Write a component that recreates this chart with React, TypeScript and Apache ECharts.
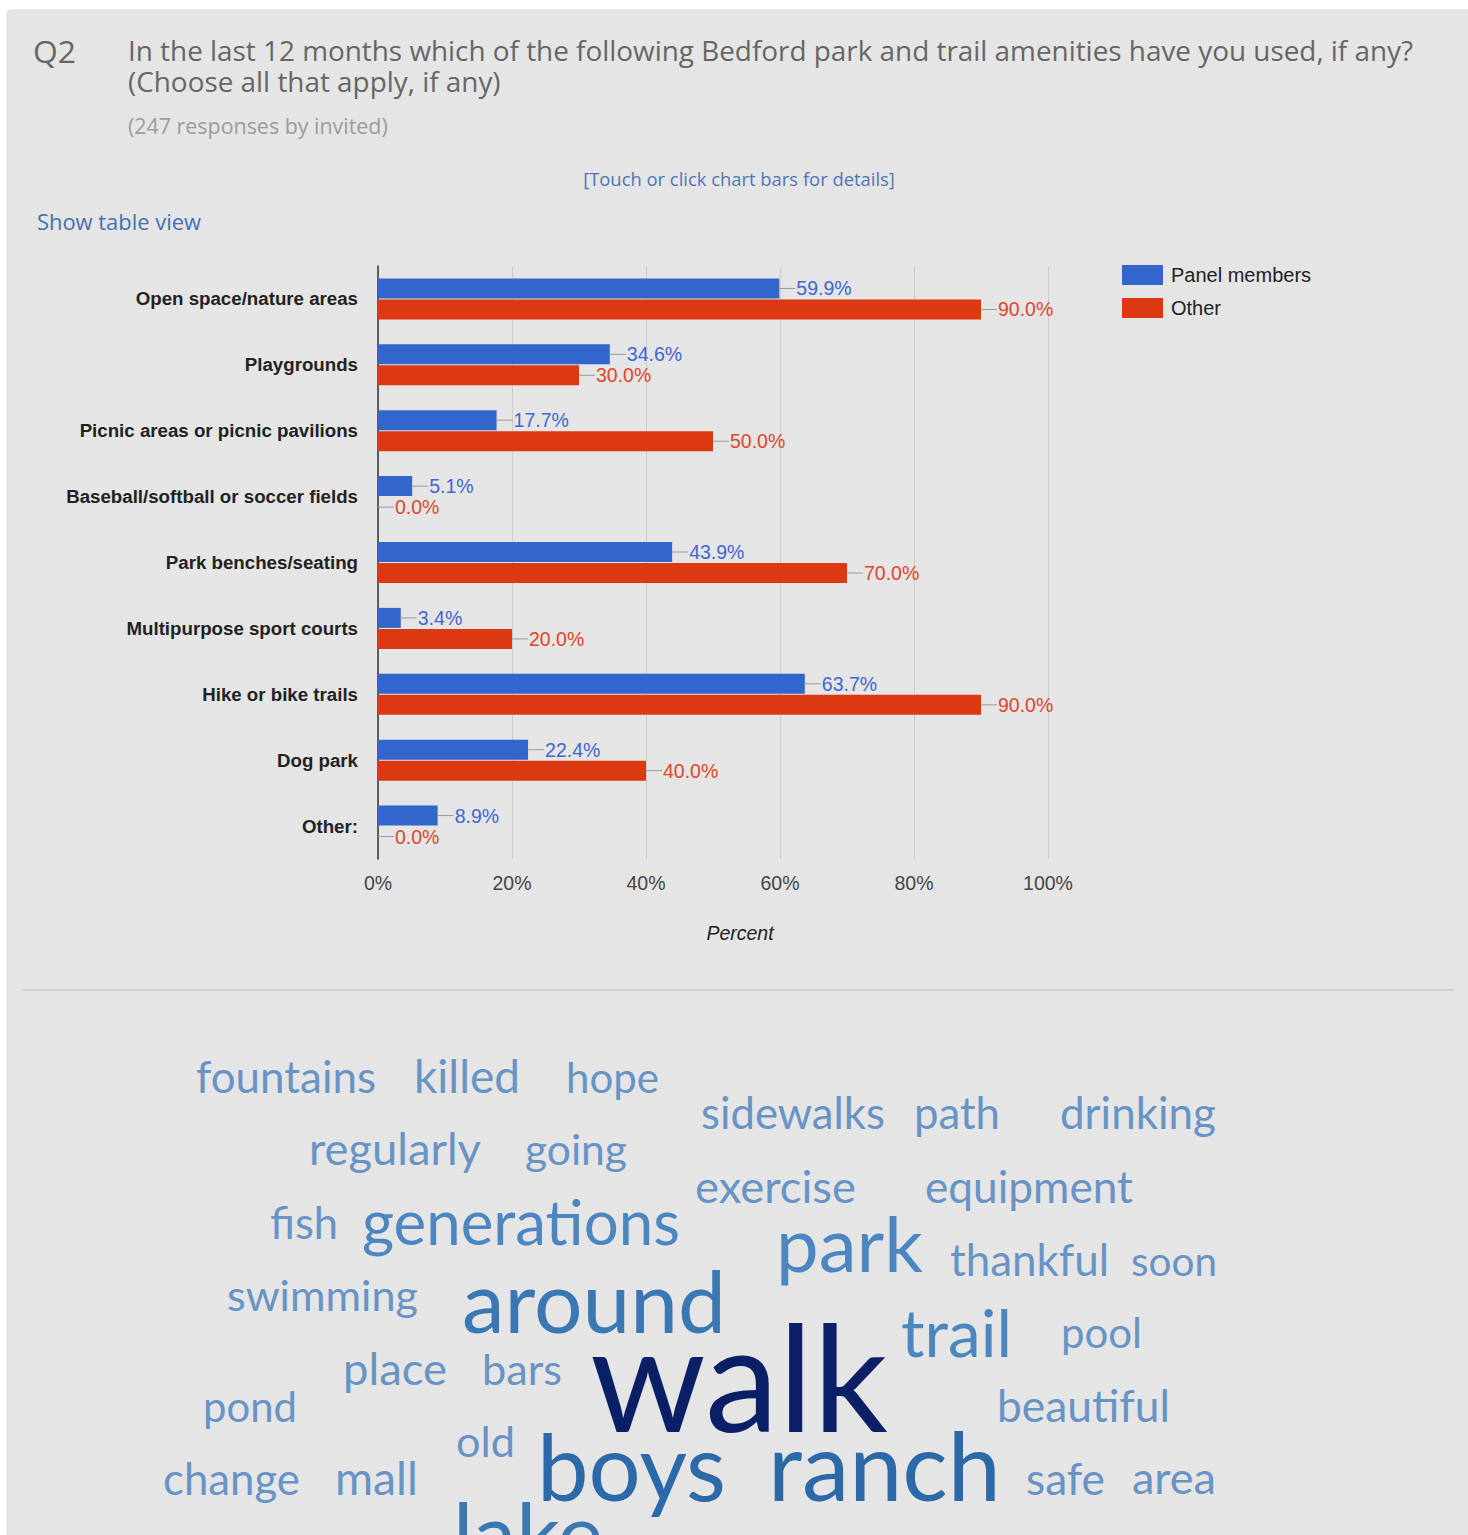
import React, { useEffect, useRef } from "react";
import * as echarts from "echarts";

// ---------- data ----------
const CATEGORIES = [
  "Open space/nature areas",
  "Playgrounds",
  "Picnic areas or picnic pavilions",
  "Baseball/softball or soccer fields",
  "Park benches/seating",
  "Multipurpose sport courts",
  "Hike or bike trails",
  "Dog park",
  "Other:",
];
const PANEL_MEMBERS = [59.9, 34.6, 17.7, 5.1, 43.9, 3.4, 63.7, 22.4, 8.9];
const OTHER = [90.0, 30.0, 50.0, 0.0, 70.0, 20.0, 90.0, 40.0, 0.0];
const SERIES_NAMES = ["Panel members", "Other"];
const X_MIN = 0;
const X_MAX = 100;
const X_STEP = 20;

const TITLE_NUM = "Q2";
const TITLE_LINE1 =
  "In the last 12 months which of the following Bedford park and trail amenities have you used, if any?";
const TITLE_LINE2 = "(Choose all that apply, if any)";
const RESPONSES = "(247 responses by invited)";
const HINT = "[Touch or click chart bars for details]";
const TABLE_LINK = "Show table view";
const X_TITLE = "Percent";

// word cloud words and their estimated weights
const WORDS = [
  "fountains", "killed", "hope", "sidewalks", "path", "drinking",
  "regularly", "going", "exercise", "equipment", "fish", "generations",
  "park", "thankful", "soon", "swimming", "around", "trail", "pool",
  "place", "bars", "walk", "pond", "beautiful", "old", "boys", "ranch",
  "change", "mall", "safe", "area", "lake", "nature", "kids", "dogs", "fields",
];
const WEIGHTS = [
  3, 3, 3, 3, 3, 3,
  3, 3, 3, 3, 3, 5,
  7, 3, 3, 3, 9, 6, 3,
  3, 3, 20, 3, 3, 3, 12, 12,
  3, 3, 3, 3, 9, 4, 4, 4, 4,
];

// ---------- layout (positions only) ----------
// [left x, baseline y, width]
const WORD_LAYOUT: number[][] = [
  [196, 1093, 180], [414, 1093, 106], [566, 1093, 93], [701, 1129, 184], [914, 1129, 86], [1060, 1129, 156],
  [309, 1165, 172], [525, 1165, 102], [695, 1203, 161], [925, 1203, 208], [270, 1239, 68], [362, 1245, 318],
  [776, 1272, 147], [950, 1276, 159], [1131, 1276, 86], [227, 1311, 191], [462, 1333, 264], [901, 1357, 111], [1061, 1348, 81],
  [343, 1385, 104], [482, 1385, 80], [590, 1432, 298], [203, 1422, 94], [997, 1422, 173], [456, 1457, 59], [537, 1501, 189], [768, 1501, 233],
  [163, 1495, 137], [335, 1495, 83], [1026, 1495, 79], [1132, 1495, 84], [453, 1565, 150], [300, 1572, 130], [825, 1572, 80], [975, 1572, 90], [1098, 1572, 118],
];

const BLUE = "#3366cc";
const RED = "#dc3912";
const CHART_FONT = "'Liberation Sans', Arial, sans-serif";
const HEAD_FONT = "'Open Sans', sans-serif";
const CLOUD_FONT = "Lato, sans-serif";

let ctx: CanvasRenderingContext2D | null = null;
function fitSize(text: string, family: string, weight: string, target: number) {
  if (!ctx) ctx = document.createElement("canvas").getContext("2d");
  if (!ctx) return 20;
  ctx.font = `${weight} 100px ${family}`;
  const w = ctx.measureText(text).width;
  return (100 * target) / w;
}

function wordColor(w: number) {
  if (w >= 15) return "#0b1f66";
  if (w >= 10) return "#2c69a8";
  if (w >= 8) return "#3a77b3";
  if (w >= 5) return "#4c86c0";
  return "#6893c5";
}

export default function App() {
  const ref = useRef<HTMLDivElement>(null);
  useEffect(() => {
    if (!ref.current) return;
    const chart = echarts.init(ref.current, undefined, { renderer: "svg" });

    const titleSize = fitSize(TITLE_LINE1, HEAD_FONT, "400", 1286);
    const respSize = fitSize(RESPONSES, HEAD_FONT, "400", 260);
    const hintSize = fitSize(HINT, HEAD_FONT, "400", 312);
    const linkSize = fitSize(TABLE_LINK, HEAD_FONT, "400", 164);
    const qSize = fitSize(TITLE_NUM, HEAD_FONT, "400", 43);

    const headText = (text: string, x: number, y: number, size: number, fill: string, align = "left") => ({
      type: "text",
      x,
      y,
      style: { text, fontSize: size, fontFamily: HEAD_FONT, fill, align, verticalAlign: "middle" },
    });

    const cloud = WORDS.map((word, i) => {
      const [x, base, w] = WORD_LAYOUT[i];
      const fs = fitSize(word, CLOUD_FONT, "400", w);
      return {
        type: "text",
        x,
        y: base - 0.39 * fs,
        style: {
          text: word,
          fontSize: fs,
          fontFamily: CLOUD_FONT,
          fill: wordColor(WEIGHTS[i]),
          align: "left",
          verticalAlign: "middle",
        },
      };
    });

    const labelFor = (color: string) => ({
      show: true,
      position: "right",
      distance: 0,
      formatter: (p: any) => `{ln|}{v|${Number(p.value).toFixed(1)}%}`,
      rich: {
        ln: { width: 16, height: 1, backgroundColor: "#9a9a9a", verticalAlign: "middle" },
        v: { color, fontSize: 19.5, fontFamily: CHART_FONT, padding: [0, 0, 0, 1] },
      },
    });

    chart.setOption({
      animation: false,
      backgroundColor: "#ffffff",
      textStyle: { fontFamily: CHART_FONT },
      graphic: [
        {
          type: "rect",
          z: -100,
          shape: { x: 7, y: 10, width: 1480, height: 1560, r: 4 },
          style: { fill: "#e5e5e5", stroke: "#dcdcdc", lineWidth: 1 },
        },
        {
          type: "line",
          shape: { x1: 22, y1: 990, x2: 1455, y2: 990 },
          style: { stroke: "#d3d3d3", lineWidth: 2 },
        },
        headText(TITLE_NUM, 33, 50, qSize, "#666666"),
        headText(TITLE_LINE1, 128, 50, titleSize, "#666666"),
        headText(TITLE_LINE2, 128, 81, titleSize, "#666666"),
        headText(RESPONSES, 128, 125, respSize, "#9c9c9c"),
        headText(HINT, 739, 178, hintSize, "#4d76b8", "center"),
        headText(TABLE_LINK, 37, 221, linkSize, "#3f72b0"),
        {
          type: "text",
          x: 740,
          y: 933,
          style: {
            text: X_TITLE,
            fontSize: 19.5,
            fontStyle: "italic",
            fontFamily: CHART_FONT,
            fill: "#222222",
            align: "center",
            verticalAlign: "middle",
          },
        },
        ...cloud,
      ],
      legend: {
        left: 1122,
        top: 265,
        padding: 0,
        orient: "vertical",
        icon: "rect",
        itemWidth: 41,
        itemHeight: 20,
        itemGap: 13,
        data: SERIES_NAMES,
        textStyle: { fontSize: 20, color: "#222222", fontFamily: CHART_FONT, padding: [0, 0, 0, 3] },
      },
      grid: { left: 378, top: 266, width: 670, height: 593 },
      xAxis: {
        type: "value",
        min: X_MIN,
        max: X_MAX,
        interval: X_STEP,
        axisLine: { show: false },
        axisTick: { show: false },
        axisLabel: {
          formatter: "{value}%",
          fontSize: 19.5,
          color: "#444444",
          margin: 14,
          fontFamily: CHART_FONT,
        },
        splitLine: { show: true, lineStyle: { color: "#cccccc", width: 1 } },
      },
      yAxis: {
        type: "category",
        inverse: true,
        data: CATEGORIES,
        axisLine: { show: true, lineStyle: { color: "#333333", width: 1.5 } },
        axisTick: { show: false },
        axisLabel: {
          fontSize: 18.7,
          fontWeight: "bold",
          color: "#222222",
          margin: 20,
          fontFamily: CHART_FONT,
        },
      },
      series: [
        {
          name: SERIES_NAMES[0],
          type: "bar",
          data: PANEL_MEMBERS,
          barWidth: 20,
          barGap: "5%",
          itemStyle: { color: BLUE },
          label: labelFor("#3f67d1"),
        },
        {
          name: SERIES_NAMES[1],
          type: "bar",
          data: OTHER,
          barWidth: 20,
          barGap: "5%",
          itemStyle: { color: RED },
          label: labelFor("#e0462a"),
        },
      ],
    });
    return () => chart.dispose();
  }, []);
  return (
    <div
      ref={ref}
      style={{ position: "absolute", left: 0, top: 0, width: 1468, height: 1535 }}
    />
  );
}
